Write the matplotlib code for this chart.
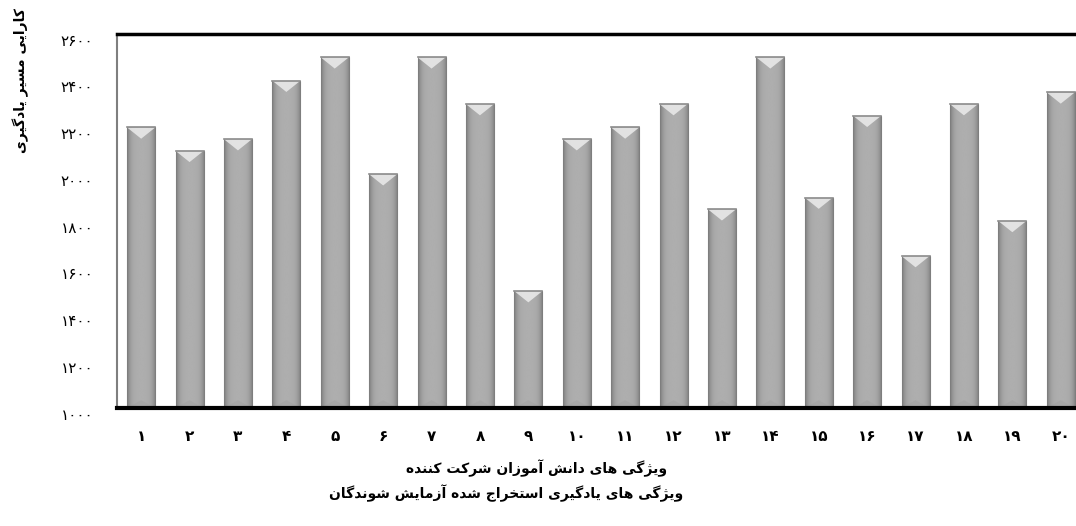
import numpy as np
import matplotlib
matplotlib.use("Agg")
import matplotlib.pyplot as plt
from matplotlib.patches import Polygon
from matplotlib.transforms import ScaledTranslation

# data
categories = list(range(1, 21))
values = [2200, 2100, 2150, 2400, 2500, 2000, 2500, 2300, 1500, 2150,
          2200, 2300, 1850, 2500, 1900, 2250, 1650, 2300, 1800, 2350]
y_ticks = [1000, 1200, 1400, 1600, 1800, 2000, 2200, 2400, 2600]

y_title = "کارایی مسیر یادگیری"
x_title_1 = "ویژگی های دانش آموزان شرکت کننده"
x_title_2 = "ویژگی های یادگیری استخراج شده آزمایش شوندگان"

FA_DIGITS = str.maketrans("0123456789", "۰۱۲۳۴۵۶۷۸۹")

# presentation forms: isolated, final, (initial, medial)
FORMS = {
    "ا": ("\uFE8D", "\uFE8E"),
    "آ": ("\uFE81", "\uFE82"),
    "د": ("\uFEA9", "\uFEAA"),
    "ر": ("\uFEAD", "\uFEAE"),
    "ز": ("\uFEAF", "\uFEB0"),
    "ژ": ("\uFB8A", "\uFB8B"),
    "و": ("\uFEED", "\uFEEE"),
    "ت": ("\uFE95", "\uFE96", "\uFE97", "\uFE98"),
    "ج": ("\uFE9D", "\uFE9E", "\uFE9F", "\uFEA0"),
    "خ": ("\uFEA5", "\uFEA6", "\uFEA7", "\uFEA8"),
    "س": ("\uFEB1", "\uFEB2", "\uFEB3", "\uFEB4"),
    "ش": ("\uFEB5", "\uFEB6", "\uFEB7", "\uFEB8"),
    "ک": ("\uFB8E", "\uFB8F", "\uFB90", "\uFB91"),
    "گ": ("\uFB92", "\uFB93", "\uFB94", "\uFB95"),
    "م": ("\uFEE1", "\uFEE2", "\uFEE3", "\uFEE4"),
    "ن": ("\uFEE5", "\uFEE6", "\uFEE7", "\uFEE8"),
    "ه": ("\uFEE9", "\uFEEA", "\uFEEB", "\uFEEC"),
    "ی": ("\uFBFC", "\uFBFD", "\uFBFE", "\uFBFF"),
}


def shape(text):
    """Pick joined letter forms and reverse into visual order (matplotlib has no RTL)."""
    out = []
    for i, c in enumerate(text):
        f = FORMS.get(c)
        if f is None:
            out.append(c)
            continue
        prev = text[i - 1] if i > 0 else None
        nxt = text[i + 1] if i < len(text) - 1 else None
        join_prev = prev in FORMS and len(FORMS[prev]) == 4
        join_next = len(f) == 4 and nxt in FORMS
        if join_prev and join_next:
            out.append(f[3])
        elif join_prev:
            out.append(f[1])
        elif join_next:
            out.append(f[2])
        else:
            out.append(f[0])
    return "".join(reversed(out))


plt.rcParams["font.family"] = ["DejaVu Sans"]

fig = plt.figure(figsize=(10.76, 5.26), dpi=100)
ax = fig.add_axes([0.1087, 0.2243, 0.8996, 0.7111])

width = 0.58
bev = 48
ymin, ymax = y_ticks[0], y_ticks[-1]

t = np.linspace(-1, 1, 80)
shade = (0.48 + 0.20 * (1 - np.abs(t) ** 4))[None, :]

for x, v in zip(categories, values):
    bar = ax.bar(x, v - ymin, bottom=ymin, width=width, color="#aaaaaa",
                 edgecolor="#858585", linewidth=0.8, zorder=2)[0]
    img = ax.imshow(shade, cmap="gray", vmin=0, vmax=1, aspect="auto",
                    extent=(x - width / 2, x + width / 2, ymin, v), zorder=2.1)
    img.set_clip_path(bar)
    top = Polygon([(x - width / 2, v), (x + width / 2, v), (x, v - bev)],
                  closed=True, facecolor="#ececec", edgecolor="none", alpha=0.85, zorder=2.2)
    ax.add_patch(top)
    ax.plot([x - width / 2, x + width / 2], [v, v], color="#8c8c8c", lw=1.2, zorder=2.3)
    bot = Polygon([(x - width / 2, ymin), (x + width / 2, ymin), (x, ymin + bev * 0.7)],
                  closed=True, facecolor="#9c9c9c", edgecolor="none", alpha=0.35, zorder=2.2)
    ax.add_patch(bot)

ax.set_xlim(0.5, len(categories) + 0.5)
ax.set_ylim(ymin, ymax)

ax.set_yticks(y_ticks)
ax.set_yticklabels([str(v).translate(FA_DIGITS) for v in y_ticks], fontsize=11)
ax.set_xticks(categories)
ax.set_xticklabels([str(c).translate(FA_DIGITS) for c in categories],
                   fontsize=11, fontweight="bold")
ax.tick_params(axis="y", length=0, pad=17)
ax.tick_params(axis="x", length=0, pad=15)
shift = ScaledTranslation(0, -4 / 72, fig.dpi_scale_trans)
for lab in ax.get_yticklabels():
    lab.set_transform(lab.get_transform() + shift)

ax.spines["top"].set_color("black")
ax.spines["top"].set_linewidth(2.5)
ax.spines["bottom"].set_color("black")
ax.spines["bottom"].set_linewidth(3)
ax.spines["left"].set_color("#7f7f7f")
ax.spines["left"].set_linewidth(1.5)
ax.spines["right"].set_visible(False)

fig.text(0.019, 0.985, shape(y_title), rotation=90, ha="center", va="top",
         fontsize=10, fontweight="bold")
fig.text(0.499, 0.110, shape(x_title_1), ha="center", va="center",
         fontsize=10, fontweight="bold")
fig.text(0.470, 0.063, shape(x_title_2), ha="center", va="center",
         fontsize=10, fontweight="bold")

fig.savefig("out.png", dpi=100)
